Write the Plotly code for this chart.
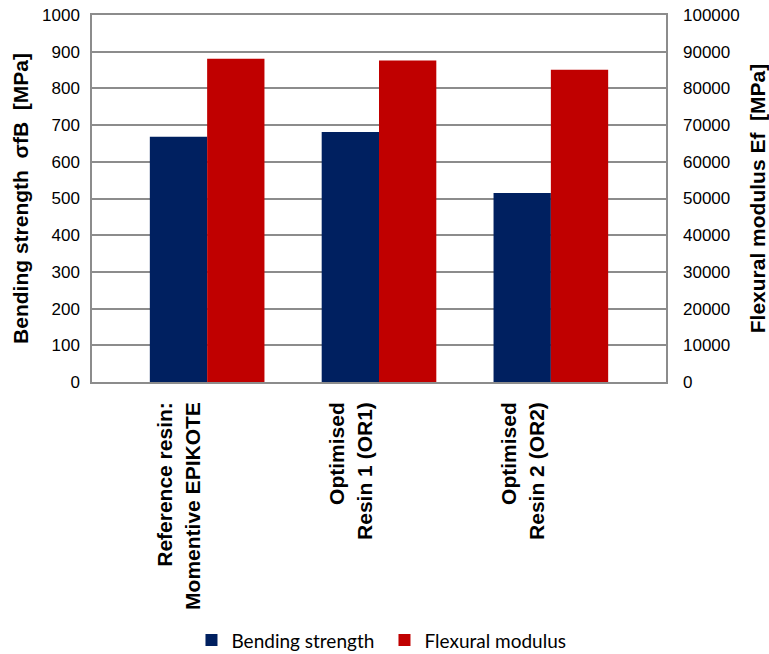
import plotly.graph_objects as go

# Resin systems compared
categories = [
    "Reference resin:<br>Momentive EPIKOTE",
    "Optimised<br>Resin 1 (OR1)",
    "Optimised<br>Resin 2 (OR2)",
]
# Bending strength σfB [MPa] (left axis)
bending_strength = [668, 681, 515]
# Flexural modulus Ef [MPa] (right axis)
flexural_modulus = [88100, 87600, 85100]

left_ticks = list(range(0, 1001, 100))
right_ticks = list(range(0, 100001, 10000))

BLUE = "#002060"
RED = "#C00000"
GRID = "#8c8c8c"
FONT = "Liberation Sans, Arial, sans-serif"

positions = list(range(len(categories)))

fig = go.Figure()
fig.add_trace(go.Bar(
    x=positions, y=bending_strength, name="Bending strength",
    marker=dict(color=BLUE, line=dict(width=0)),
    offsetgroup="a", yaxis="y",
))
fig.add_trace(go.Bar(
    x=positions, y=flexural_modulus, name="Flexural modulus",
    marker=dict(color=RED, line=dict(width=0)),
    offsetgroup="b", yaxis="y2",
))

tick_font = dict(family=FONT, size=17, color="#000")

fig.update_layout(
    width=769, height=654,
    margin=dict(l=92, r=103, t=15, b=272),
    paper_bgcolor="white", plot_bgcolor="white",
    barmode="group", bargap=0.333, bargroupgap=0,
    showlegend=True,
    legend=dict(
        orientation="h", xref="container", x=0.249, xanchor="left",
        yref="container", y=0.021, yanchor="middle",
        font=dict(family="Lato, sans-serif", size=19, color="#000"),
        itemwidth=30, entrywidth=148, traceorder="normal",
    ),
    # bar axis: the categories sit with a little padding at each end
    xaxis=dict(
        range=[-0.67, 2.67], automargin=False, showticklabels=False,
        showline=True, linecolor=GRID, linewidth=1.5, mirror=True,
        ticks="", showgrid=False, zeroline=False,
    ),
    # label axis carrying the rotated category names
    xaxis2=dict(
        overlaying="x", anchor="y", side="bottom",
        range=[-0.506, 2.831], tickvals=positions, ticktext=categories,
        tickangle=-90, automargin=False,
        tickfont=dict(family=FONT, size=21, color="#000", weight="bold"),
        showline=False, showgrid=False, zeroline=False, ticks="",
        ticklabelstandoff=15,
    ),
    yaxis=dict(
        range=[0, 1000], tickvals=left_ticks, ticktext=[str(v) for v in left_ticks],
        automargin=False,
        showgrid=True, gridcolor=GRID, gridwidth=1.5,
        showline=True, linecolor=GRID, linewidth=1.5, mirror=True,
        tickfont=tick_font, ticks="", ticklabelstandoff=7,
        title=dict(text="<b>Bending strength  σfB  [MPa]</b>",
                   font=dict(family=FONT, size=21, color="#000"),
                   standoff=8),
        zeroline=False,
    ),
    yaxis2=dict(
        range=[0, 100000], tickvals=right_ticks, ticktext=[str(v) for v in right_ticks],
        automargin=False,
        overlaying="y", side="right", showgrid=False,
        tickfont=tick_font, ticks="", ticklabelstandoff=16,
        title=dict(text="<b>Flexural modulus Ef  [MPa]</b>",
                   font=dict(family=FONT, size=21, color="#000"),
                   standoff=12),
        zeroline=False,
    ),
)

# invisible carrier so the label axis is drawn
fig.add_trace(go.Scatter(x=positions, y=[0] * len(positions), xaxis="x2",
                         mode="markers", marker=dict(opacity=0),
                         showlegend=False, hoverinfo="skip"))

fig.write_html("out.html")
